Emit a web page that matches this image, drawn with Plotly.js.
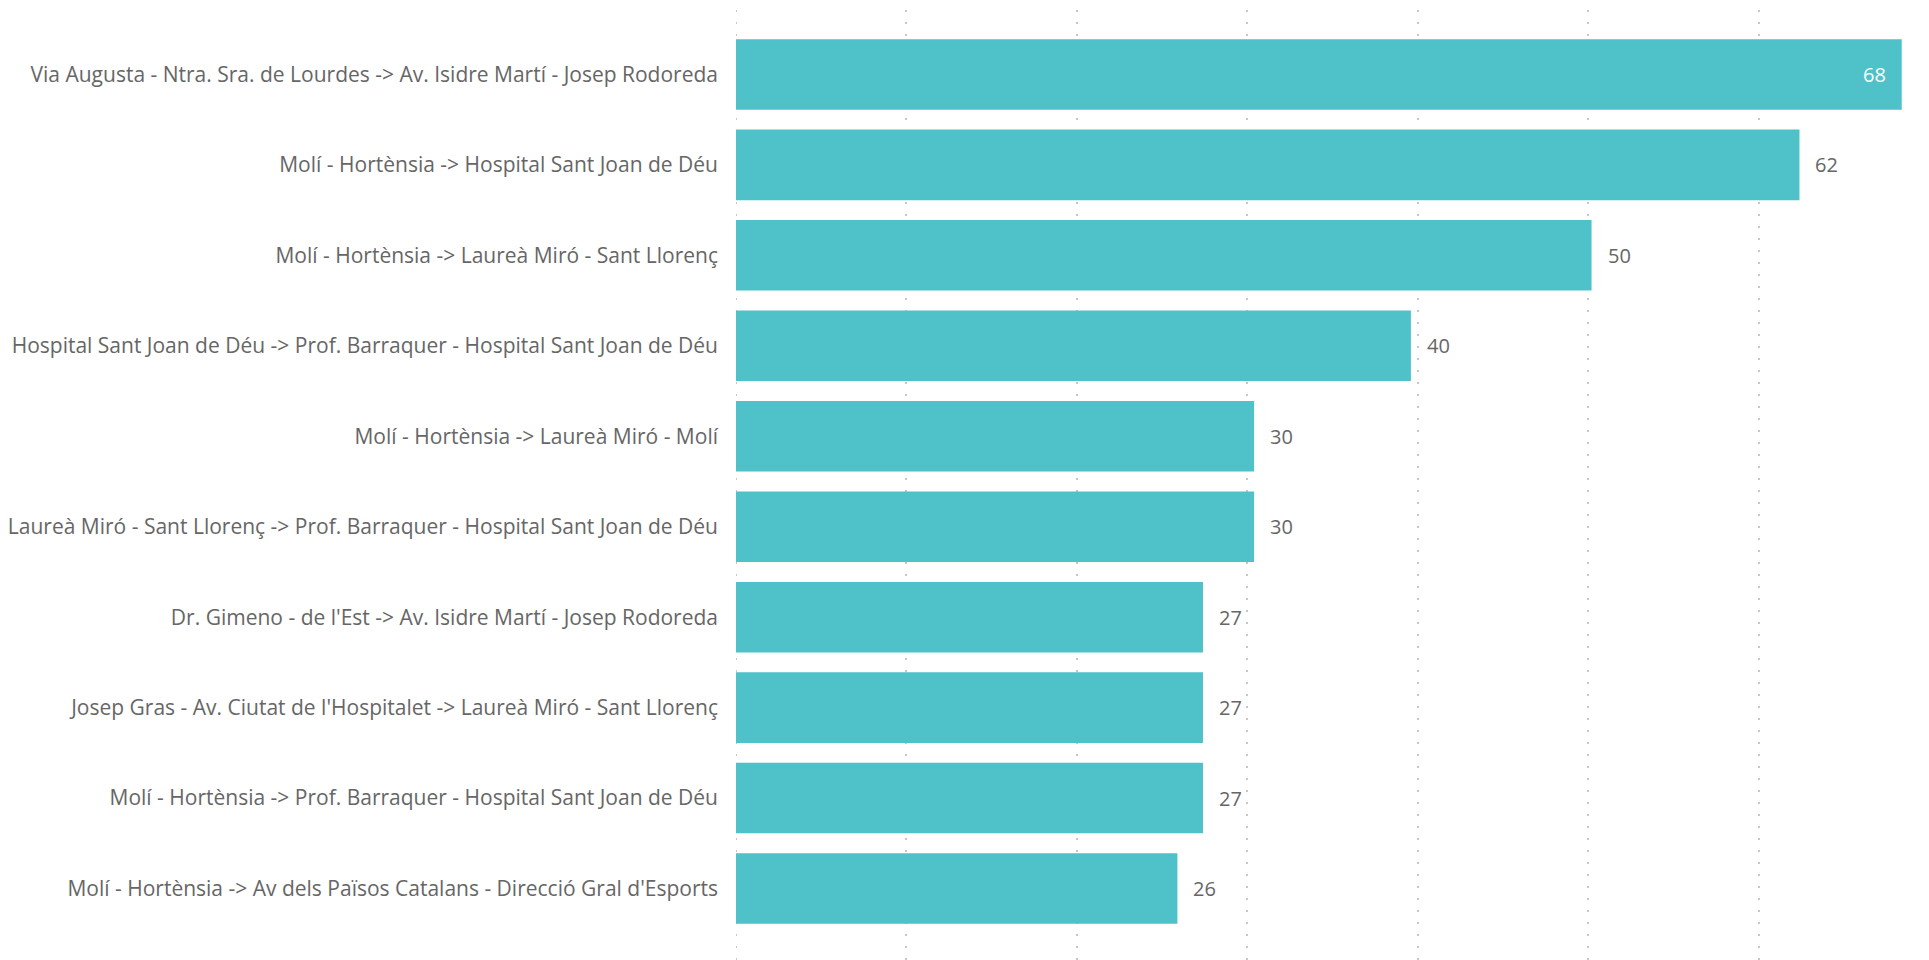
<!DOCTYPE html>
<html>
<head>
<meta charset="utf-8">
<script src="https://cdn.plot.ly/plotly-3.0.1.min.js"></script>
<style>
  html, body { margin: 0; padding: 0; background: #ffffff; }
  #chart { width: 1929px; height: 960px; }
</style>
</head>
<body>
<div id="chart"></div>
<script>
// Route names (top to bottom)
const categories = [
  "Via Augusta - Ntra. Sra. de Lourdes -> Av. Isidre Martí - Josep Rodoreda",
  "Molí - Hortènsia -> Hospital Sant Joan de Déu",
  "Molí - Hortènsia -> Laureà Miró - Sant Llorenç",
  "Hospital Sant Joan de Déu -> Prof. Barraquer - Hospital Sant Joan de Déu",
  "Molí - Hortènsia -> Laureà Miró - Molí",
  "Laureà Miró - Sant Llorenç -> Prof. Barraquer - Hospital Sant Joan de Déu",
  "Dr. Gimeno - de l'Est -> Av. Isidre Martí - Josep Rodoreda",
  "Josep Gras - Av. Ciutat de l'Hospitalet -> Laureà Miró - Sant Llorenç",
  "Molí - Hortènsia -> Prof. Barraquer - Hospital Sant Joan de Déu",
  "Molí - Hortènsia -> Av dels Països Catalans - Direcció Gral d'Esports"
];
// Bar lengths
const values = [68.4, 62.4, 50.2, 39.6, 30.4, 30.4, 27.4, 27.4, 27.4, 25.9];
// Data labels as shown
const labels = ["68", "62", "50", "40", "30", "30", "27", "27", "27", "26"];
// Which labels sit inside the bar end
const insideLabel = [true, false, false, false, false, false, false, false, false, false];

const FONT = "'Segoe UI', 'Open Sans', sans-serif";
const barColor = "#4FC1C8";
const textGray = "#666666";
const gridColor = "#c6c6c6";

const annotations = categories.map((c, i) => ({
  x: values[i],
  y: c,
  xref: "x",
  yref: "y",
  text: labels[i],
  showarrow: false,
  xanchor: insideLabel[i] ? "right" : "left",
  xshift: insideLabel[i] ? -14 : 14,
  font: { family: FONT, size: 20, color: insideLabel[i] ? "#ffffff" : textGray }
}));

const trace = {
  type: "bar",
  orientation: "h",
  x: values,
  y: categories,
  marker: { color: barColor },
  hoverinfo: "none",
  textposition: "none"
};

const layout = {
  width: 1929,
  height: 960,
  margin: { l: 736, r: 0, t: 10, b: 0, pad: 0 },
  paper_bgcolor: "#ffffff",
  plot_bgcolor: "#ffffff",
  bargap: 0.22,
  showlegend: false,
  font: { family: FONT, color: textGray },
  xaxis: {
    range: [0, 70],
    tick0: 0,
    dtick: 10,
    showticklabels: false,
    ticks: "",
    showgrid: true,
    gridcolor: gridColor,
    gridwidth: 2,
    griddash: "2px,10px",
    zeroline: false,
    showline: false,
    fixedrange: true
  },
  yaxis: {
    type: "category",
    range: [9.79, -0.712],
    showgrid: false,
    zeroline: false,
    showline: false,
    ticks: "",
    ticklabelstandoff: 17,
    automargin: false,
    tickfont: { family: FONT, size: 21, color: textGray },
    fixedrange: true
  },
  shapes: [{
    type: "line",
    layer: "below",
    xref: "x", x0: 0, x1: 0,
    yref: "paper", y0: 0, y1: 1,
    line: { color: gridColor, width: 2, dash: "2px,10px" }
  }],
  annotations: annotations
};

Plotly.newPlot("chart", [trace], layout, { displayModeBar: false, staticPlot: true });
</script>
</body>
</html>
